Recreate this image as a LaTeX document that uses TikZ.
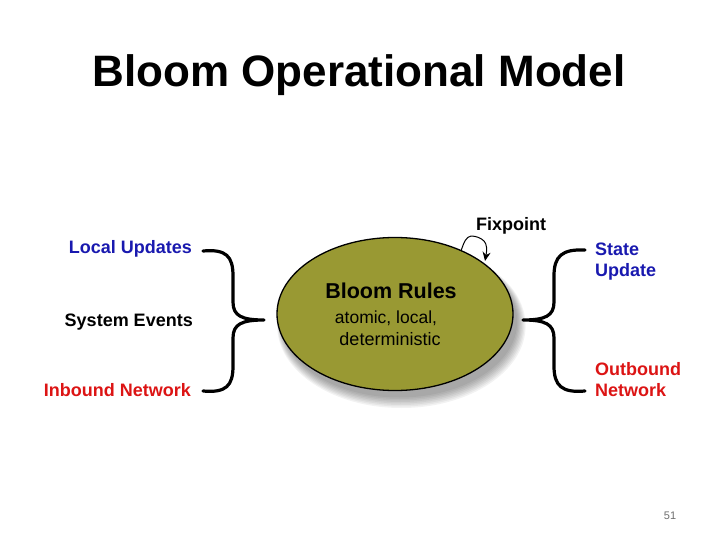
\documentclass[tikz,border=0pt]{standalone}
\usepackage{fontspec}
\setmainfont{Liberation Sans}
\usetikzlibrary{shapes.geometric,arrows.meta}
\definecolor{olivefill}{RGB}{153,153,51}
\definecolor{lblblue}{RGB}{25,25,175}
\definecolor{lblred}{RGB}{220,20,20}
\definecolor{pagegray}{RGB}{110,110,110}
\tikzset{
  lbl/.style={font=\fontsize{18}{20}\selectfont\bfseries, inner sep=0pt},
  bracepath/.style={line width=3.2pt, line cap=round, line join=round},
}
\begin{document}
\begin{tikzpicture}[x=1pt,y=-1pt]
\useasboundingbox (0,0) rectangle (720,540);
% title
\node[anchor=base, inner sep=0pt, font=\fontsize{44}{48}\selectfont\bfseries] (title) at (359,87) {Bloom Operational Model};
% shadow
\foreach \k in {1,...,8}{
  \fill[black, opacity=0.05] (399+0.3*\k,321+0.6*\k) ellipse ({117+0.9*\k} and {75+0.9*\k});
}
% ellipse
\node[ellipse, draw=black, line width=1.3pt, fill=olivefill, minimum width=236pt, minimum height=153pt, inner sep=0pt] (ell) at (395,314) {};
\node[anchor=base, inner sep=0pt, font=\fontsize{21.5}{24}\selectfont\bfseries] (rules) at (391,298) {Bloom Rules};
\node[anchor=base, inner sep=0pt, font=\fontsize{17.5}{22}\selectfont] (atomic) at (386,323) {atomic, local,};
\node[anchor=base, inner sep=0pt, font=\fontsize{18}{22}\selectfont] (determ) at (390,345) {deterministic};
% fixpoint
\node[lbl, anchor=base west] (fix) at (476,230) {Fixpoint};
\coordinate (loopA) at (461,251);
\coordinate (loopB) at (485,261);
\draw[line width=1pt, line join=round, -{Stealth[length=9pt,width=8pt]}] (loopA) .. controls (464,242) and (466,237) .. (471,236) .. controls (476,236) and (481,238) .. (484,241) .. controls (487,244) and (487,250) .. (loopB);
% left labels
\node[lbl, anchor=base east, text=lblblue] (lu) at (192,254) {Local Updates};
\node[lbl, anchor=base east] (se) at (193,326) {System Events};
\node[lbl, anchor=base east, text=lblred] (inb) at (191,396) {Inbound Network};
% left brace
\coordinate (lbT) at (203,251);
\coordinate (lbTip) at (264,320);
\coordinate (lbB) at (203,391);
\draw[bracepath] (lbT) .. controls (226,249) and (233,256) .. (233,276) -- (233,302)
  .. controls (233,316) and (242,320) .. (lbTip)
  .. controls (242,320) and (233,324) .. (233,338) -- (233,366)
  .. controls (233,386) and (226,393) .. (lbB);
% right brace
\coordinate (rbT) at (585,250);
\coordinate (rbTip) at (523,320);
\coordinate (rbB) at (585,391);
\draw[bracepath] (rbT) .. controls (562,249) and (554,256) .. (554,276) -- (554,302)
  .. controls (554,316) and (545,320) .. (rbTip)
  .. controls (545,320) and (554,324) .. (554,338) -- (554,366)
  .. controls (554,386) and (562,393) .. (rbB);
% right labels
\node[lbl, anchor=base west, text=lblblue] (su1) at (595,255) {State};
\node[lbl, anchor=base west, text=lblblue] (su2) at (595,276) {Update};
\node[lbl, anchor=base west, text=lblred] (on1) at (595,375) {Outbound};
\node[lbl, anchor=base west, text=lblred] (on2) at (595,396) {Network};
% page number
\node[anchor=base, inner sep=0pt, text=pagegray, font=\fontsize{11}{12}\selectfont] (pg) at (670,519) {51};
\end{tikzpicture}
\end{document}
